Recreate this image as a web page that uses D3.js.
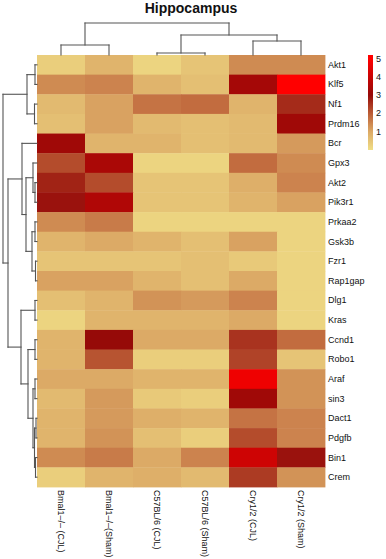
<!DOCTYPE html>
<html>
<head>
<meta charset="utf-8">
<script src="https://cdn.jsdelivr.net/npm/d3@7"></script>
<style>
  html, body { margin: 0; padding: 0; background: #fff; }
  svg { display: block; }
  text { font-family: "Liberation Sans", Arial, Helvetica, sans-serif; fill: #111; }
</style>
</head>
<body>
<svg id="chart" width="386" height="559"></svg>
<script>
// ---------------- data ----------------
const title = "Hippocampus";
const colLabels = ["Bmal1–/– (CJL)", "Bmal1–/–(Sham)", "C57BL/6 (CJL)", "C57BL/6 (Sham)", "Cry1/2 (CJL)", "Cry1/2 (Sham)"];
const rowLabels = ["Akt1","Klf5","Nf1","Prdm16","Bcr","Gpx3","Akt2","Pik3r1","Prkaa2","Gsk3b","Fzr1","Rap1gap","Dlg1","Kras","Ccnd1","Robo1","Araf","sin3","Dact1","Pdgfb","Bin1","Crem"];
// one array per row, columns in colLabels order
const valAkt1    = [0.3, 0.8, 0.2, 0.5, 1.4, 1.4];
const valKlf5    = [1.4, 1.5, 0.8, 0.6, 3.3, 5.0];
const valNf1     = [0.7, 1.1, 1.7, 1.8, 0.8, 2.6];
const valPrdm16  = [0.6, 1.1, 0.7, 0.6, 0.7, 3.2];
const valBcr     = [3.2, 0.8, 0.8, 0.6, 0.7, 1.2];
const valGpx3    = [2.2, 3.4, 0.2, 0.2, 1.8, 1.4];
const valAkt2    = [2.7, 2.2, 0.5, 0.5, 0.9, 1.5];
const valPik3r1  = [2.9, 3.5, 0.5, 0.5, 0.8, 1.1];
const valPrkaa2  = [1.4, 1.6, 0.2, 0.2, 0.2, 0.2];
const valGsk3b   = [0.8, 1.0, 0.8, 0.6, 1.1, 0.2];
const valFzr1    = [0.5, 0.5, 0.5, 0.6, 0.4, 0.2];
const valRap1gap = [1.1, 1.1, 0.8, 0.6, 1.0, 0.2];
const valDlg1    = [0.6, 0.8, 1.3, 1.2, 1.5, 0.2];
const valKras    = [0.2, 0.8, 0.8, 0.8, 1.0, 0.2];
const valCcnd1   = [0.8, 3.0, 1.0, 1.0, 2.5, 1.8];
const valRobo1   = [0.8, 2.1, 0.3, 0.3, 2.3, 0.5];
const valAraf    = [1.0, 1.0, 0.8, 0.8, 4.7, 1.3];
const valSin3    = [0.7, 1.2, 0.4, 0.3, 3.2, 1.3];
const valDact1   = [0.8, 1.2, 0.9, 0.8, 1.7, 1.5];
const valPdgfb   = [0.8, 1.3, 0.6, 0.3, 2.2, 1.5];
const valBin1    = [1.4, 1.6, 1.0, 1.5, 4.1, 2.9];
const valCrem    = [0.3, 0.8, 0.9, 0.7, 2.4, 1.3];
const rowValues = [valAkt1,valKlf5,valNf1,valPrdm16,valBcr,valGpx3,valAkt2,valPik3r1,valPrkaa2,valGsk3b,valFzr1,valRap1gap,valDlg1,valKras,valCcnd1,valRobo1,valAraf,valSin3,valDact1,valPdgfb,valBin1,valCrem];

// legend
const legendTicks = [1, 2, 3, 4, 5];
const colorStops  = [0, 1, 2, 3, 4, 5];
const colorHex    = ["#f0de86", "#dcaa66", "#bb5c35", "#960a08", "#c90404", "#ff0000"];

// hclust-style merges: negative = leaf (1-based), positive = earlier merge step (1-based)
const rowMerge = [[-1,-2],[-3,-4],[1,2],[-7,-8],[-6,4],[-9,-10],[-11,-12],[6,7],[5,8],[-5,9],
                  [-13,-14],[-15,-16],[-17,-18],[-19,-20],[-21,-22],[14,15],[13,16],[12,17],[11,18],[10,19],[3,20]];
const rowHeight = [2,2.5,10,2,4,2,1.5,5,11,15,2,2,2,1,1.5,2.5,4,9,16,29,34];
const colMerge = [[-3,-4],[-1,-2],[-5,-6],[1,3],[2,4]];
const colHeight = [2,10,14,20,32];

// ---------------- drawing ----------------
const svg = d3.select("#chart");
const hmLeft = 37, hmRight = 325, hmTop = 55, hmBottom = 487;

const x = d3.scaleBand().domain(colLabels).range([hmLeft, hmRight]);
const y = d3.scaleBand().domain(rowLabels).range([hmTop, hmBottom]);
const color = d3.scaleLinear().domain(colorStops).range(colorHex).interpolate(d3.interpolateRgb).clamp(true);

// cells
const cells = [];
rowValues.forEach((vals, i) => vals.forEach((v, j) => cells.push({r: rowLabels[i], c: colLabels[j], v})));
svg.append("g").selectAll("rect").data(cells).join("rect")
  .attr("x", d => x(d.c)).attr("y", d => y(d.r))
  .attr("width", x.bandwidth() + 0.4).attr("height", y.bandwidth() + 0.4)
  .attr("fill", d => color(d.v));

// dendrogram helper
function dendro(merge, heights, leafPos, hScale, vertical) {
  const pos = [], segs = [];
  const get = k => k < 0 ? {p: leafPos(-k - 1), h: 0} : pos[k - 1];
  merge.forEach((m, i) => {
    const a = get(m[0]), b = get(m[1]), h = heights[i];
    segs.push([a.p, a.h, a.p, h], [b.p, b.h, b.p, h], [a.p, h, b.p, h]);
    pos.push({p: (a.p + b.p) / 2, h});
  });
  return segs.map(s => vertical
    ? [s[0], hScale(s[1]), s[2], hScale(s[3])]
    : [hScale(s[1]), s[0], hScale(s[3]), s[2]]);
}

const rowH = d3.scaleLinear().domain([0, 34]).range([hmLeft, 3]);
const rowSegs = dendro(rowMerge, rowHeight, i => y(rowLabels[i]) + y.bandwidth() / 2, rowH, false);
const colH = d3.scaleLinear().domain([0, 32]).range([hmTop, 23]);
const colSegs = dendro(colMerge, colHeight, i => x(colLabels[i]) + x.bandwidth() / 2, colH, true);

svg.append("g").selectAll("line").data(rowSegs.concat(colSegs)).join("line")
  .attr("x1", d => d[0]).attr("y1", d => d[1]).attr("x2", d => d[2]).attr("y2", d => d[3])
  .attr("stroke", "#555").attr("stroke-width", 1.1).attr("stroke-linecap", "square");

// row labels
svg.append("g").selectAll("text").data(rowLabels).join("text")
  .attr("x", hmRight + 3).attr("y", d => y(d) + y.bandwidth() / 2)
  .attr("dominant-baseline", "central").attr("font-size", 9).text(d => d);

// column labels
svg.append("g").selectAll("text").data(colLabels).join("text")
  .attr("transform", d => `translate(${x(d) + x.bandwidth() / 2},${hmBottom + 3}) rotate(90)`)
  .attr("dominant-baseline", "central").attr("font-size", 9).text(d => d);

// title
svg.append("text").attr("x", 191).attr("y", 13).attr("text-anchor", "middle")
  .attr("font-size", 14).attr("font-weight", "bold").text(title);

// legend
const legY = d3.scaleLinear().domain([0, 5.2]).range([150, 55]);
const defs = svg.append("defs");
const grad = defs.append("linearGradient").attr("id", "lg").attr("x1", 0).attr("y1", 1).attr("x2", 0).attr("y2", 0);
d3.range(0, 5.21, 0.1).forEach(v => grad.append("stop").attr("offset", v / 5.2).attr("stop-color", color(v)));
svg.append("rect").attr("x", 368).attr("y", legY(5.2)).attr("width", 5).attr("height", legY(0) - legY(5.2)).attr("fill", "url(#lg)");
svg.append("g").selectAll("text").data(legendTicks).join("text")
  .attr("x", 376).attr("y", d => legY(d)).attr("dominant-baseline", "central")
  .attr("font-size", 9).text(d => d);
</script>
</body>
</html>
